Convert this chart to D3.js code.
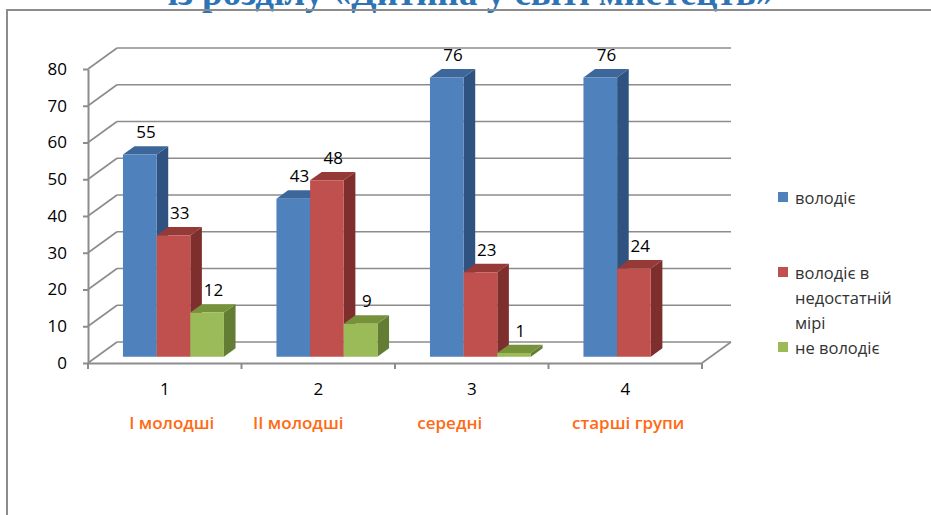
<!DOCTYPE html>
<html>
<head>
	<meta charset="utf-8">
	<title>3D column chart</title>
	<script src="https://d3js.org/d3.v7.min.js" charset="utf-8"></script>
	<style>
		body { margin: 0; background: #fff; }
		text { font-family: "Open Sans", sans-serif; }
	</style>
</head>
<body>
	<script>
		// data
		const categories = ["1", "2", "3", "4"];
		const groupNames = ["І молодші", "ІІ молодші", "середні", "старші групи"];
		const seriesNames = ["володіє", "володіє в недостатній мірі", "не володіє"];
		const volodie = [55, 43, 76, 76];
		const nedostatno = [33, 48, 23, 24];
		const neVolodie = [12, 9, 1, null];
		const yTicks = [0, 10, 20, 30, 40, 50, 60, 70, 80];
		const titleText = "із розділу «Дитина у світі мистецтв»";

		const values = [volodie, nedostatno, neVolodie];
		const colors = [
			{front: "#4f81bd", side: "#2f5280", top: "#3d679a"},
			{front: "#c0504d", side: "#7e2e2c", top: "#953a37"},
			{front: "#9bbb59", side: "#647d34", top: "#76933c"}
		];

		const width = 931, height = 515;
		const depthX = 29, depthY = -21;
		const gridColor = "#8c8c8c";

		const svg = d3.select("body").append("svg")
			.attr("width", width)
			.attr("height", height);

		const x = d3.scaleBand().domain(categories).range([88, 702]);
		const y = d3.scaleLinear().domain([0, 80]).range([363, 69]);
		const xs = d3.scaleBand().domain(d3.range(seriesNames.length))
			.range([0, x.bandwidth()])
			.paddingOuter(0.78);

		// project a point (front x, value, depth 0..1) to the screen
		function P(px, v, d) { return [px + d * depthX, y(v) + d * depthY]; }
		const line = d3.line();

		// title (cut off by the top of the page, as in the source)
		svg.append("text")
			.attr("x", 471).attr("y", 5)
			.attr("text-anchor", "middle")
			.style("font-family", "'Liberation Serif', serif")
			.style("font-weight", "bold")
			.style("font-size", "37px")
			.attr("fill", "#2e74b5")
			.text(titleText);

		// frame
		svg.append("path")
			.attr("d", "M7,515V10H931")
			.attr("fill", "none")
			.attr("stroke", gridColor)
			.attr("stroke-width", 2);

		const grid = svg.append("g")
			.attr("fill", "none")
			.attr("stroke", gridColor)
			.attr("stroke-width", 1.6);

		const x0 = x.range()[0], x1 = x.range()[1];
		yTicks.forEach(t => {
			grid.append("path").attr("d", line([P(x0, t, 1), P(x1, t, 1)]));
			grid.append("path").attr("d", line([P(x0, t, 0), P(x0, t, 1)]));
		});
		// floor right edge
		grid.append("path").attr("d", line([P(x1, 0, 0), P(x1, 0, 1)]));

		// y axis
		const yAxis = svg.append("g")
			.attr("transform", `translate(${x0},0)`)
			.call(d3.axisLeft(y).tickValues(yTicks).tickSize(5).tickSizeOuter(0).tickPadding(16));
		yAxis.selectAll("path, line").attr("stroke", gridColor).attr("stroke-width", 2);
		yAxis.selectAll("text").style("font-size", "17px").attr("fill", "#000");

		// x axis
		const xAxis = svg.append("g")
			.attr("transform", `translate(0,${y(0)})`)
			.call(d3.axisBottom(x).tickSize(0).tickPadding(20));
		xAxis.select(".domain").attr("stroke", gridColor).attr("stroke-width", 2);
		xAxis.selectAll("text").style("font-size", "17px").attr("fill", "#000");
		const bounds = categories.map(c => x(c)).concat([x1]);
		xAxis.selectAll(".bound").data(bounds).enter().append("line")
			.attr("x1", d => d).attr("x2", d => d)
			.attr("y1", 0).attr("y2", 6)
			.attr("stroke", gridColor).attr("stroke-width", 2);

		// group names under the axis
		const groupShift = [7, -20, -22, 3];
		svg.selectAll(".group").data(groupNames).enter().append("text")
			.attr("x", (d, i) => x(categories[i]) + x.bandwidth() / 2 + groupShift[i])
			.attr("y", 429)
			.attr("text-anchor", "middle")
			.style("font-size", "17px")
			.style("font-weight", 600)
			.attr("fill", "#ff6a13")
			.text(d => d);

		// bars
		const d0 = 0.3, d1 = 0.7;
		const bars = svg.append("g");
		const labels = [];
		categories.forEach((c, i) => {
			values.forEach((vals, s) => {
				const v = vals[i];
				if (v == null) return;
				const a = x(c) + xs(s), b = a + xs.bandwidth();
				const col = colors[s];
				bars.append("path")
					.attr("d", line([P(b, 0, d0), P(b, 0, d1), P(b, v, d1), P(b, v, d0)]) + "Z")
					.attr("fill", col.side);
				bars.append("path")
					.attr("d", line([P(a, v, d0), P(b, v, d0), P(b, v, d1), P(a, v, d1)]) + "Z")
					.attr("fill", col.top);
				bars.append("path")
					.attr("d", line([P(a, 0, d0), P(b, 0, d0), P(b, v, d0), P(a, v, d0)]) + "Z")
					.attr("fill", col.front);
				labels.push({v: v, cx: (a + b) / 2 + 15, cy: y(v) - 29});
			});
		});

		svg.selectAll(".val").data(labels).enter().append("text")
			.attr("x", d => d.cx)
			.attr("y", d => d.cy)
			.attr("text-anchor", "middle")
			.attr("dominant-baseline", "central")
			.style("font-size", "17px")
			.attr("fill", "#000")
			.text(d => d.v);

		// legend
		const legendLines = [["володіє"], ["володіє в", "недостатній", "мірі"], ["не володіє"]];
		const legendY = [197, 272, 347];
		const legend = svg.append("g");
		legendLines.forEach((ls, s) => {
			legend.append("rect")
				.attr("x", 778).attr("y", legendY[s] - 5)
				.attr("width", 10).attr("height", 10)
				.attr("fill", colors[s].front);
			ls.forEach((t, k) => {
				legend.append("text")
					.attr("x", 795).attr("y", legendY[s] + k * 25)
					.attr("dominant-baseline", "central")
					.style("font-size", "16.5px")
					.attr("fill", "#333")
					.text(t);
			});
		});
	</script>
</body>
</html>
